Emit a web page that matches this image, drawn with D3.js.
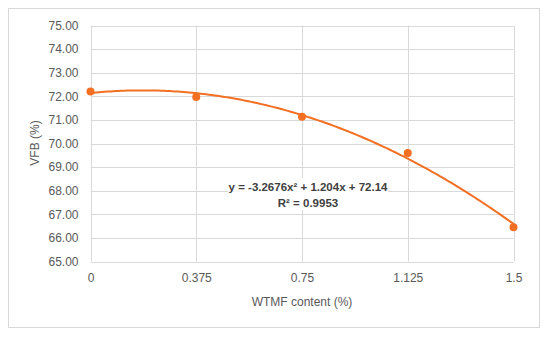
<!DOCTYPE html>
<html><head><meta charset="utf-8">
<script src="https://cdn.jsdelivr.net/npm/d3@7"></script>
<style>body{margin:0;background:#fff}svg{display:block}</style>
</head><body>
<script>
const xValues = [0, 0.375, 0.75, 1.125, 1.5];
const vfbValues = [72.2, 71.97, 71.13, 69.6, 66.45];
const xTickLabels = ["0", "0.375", "0.75", "1.125", "1.5"];
const yTicks = [65, 66, 67, 68, 69, 70, 71, 72, 73, 74, 75];
const trendCoeffs = [-3.2676, 1.204, 72.14]; // a, b, c
const equationLines = ["y = -3.2676x² + 1.204x + 72.14", "R² = 0.9953"];

const W = 550, H = 338;
const svg = d3.select("body").append("svg").attr("width", W).attr("height", H);
const font = "'Liberation Sans', Arial, sans-serif";

svg.append("rect").attr("x", 8.5).attr("y", 8.5).attr("width", 531).attr("height", 319)
  .attr("fill", "#fff").attr("stroke", "#d9d9d9").attr("stroke-width", 1);

const x = d3.scaleLinear().domain([0, 1.5]).range([90.5, 513.5]);
const y = d3.scaleLinear().domain([65, 75]).range([261.5, 25.5]);

const g = svg.append("g");
g.selectAll("line.h").data(yTicks).join("line")
  .attr("x1", x(0)).attr("x2", x(1.5)).attr("y1", d => Math.round(y(d)) + 0.5).attr("y2", d => Math.round(y(d)) + 0.5)
  .attr("stroke", "#d9d9d9").attr("stroke-width", 1);
g.selectAll("line.v").data(xValues).join("line")
  .attr("y1", y(65)).attr("y2", y(75)).attr("x1", d => Math.round(x(d)) + 0.5).attr("x2", d => Math.round(x(d)) + 0.5)
  .attr("stroke", "#d9d9d9").attr("stroke-width", 1);

const yAxis = d3.axisLeft(y).tickValues(yTicks).tickFormat(d3.format(".2f")).tickSize(0).tickPadding(12);
const ya = svg.append("g").attr("transform", `translate(${x(0)},0)`).call(yAxis);
ya.select(".domain").remove();
ya.selectAll("text").attr("fill", "#595959").style("font-family", font).style("font-size", "12px");

const xAxis = d3.axisBottom(x).tickValues(xValues).tickFormat((d, i) => xTickLabels[i]).tickSize(0).tickPadding(12);
const xa = svg.append("g").attr("transform", `translate(0,${y(65)})`).call(xAxis);
xa.select(".domain").remove();
xa.selectAll("text").attr("fill", "#595959").style("font-family", font).style("font-size", "12px");

svg.append("text").attr("x", 302).attr("y", 306).attr("text-anchor", "middle")
  .attr("fill", "#595959").style("font-family", font).style("font-size", "12px").text("WTMF content (%)");
svg.append("text").attr("transform", "translate(39,143) rotate(-90)").attr("text-anchor", "middle")
  .attr("fill", "#595959").style("font-family", font).style("font-size", "12px").text("VFB (%)");

const [a, b, c] = trendCoeffs;
const samples = d3.range(0, 1.5001, 0.01);
const line = d3.line().x(d => x(d)).y(d => y(a * d * d + b * d + c)).curve(d3.curveLinear);
svg.append("path").datum(samples).attr("d", line).attr("fill", "none")
  .attr("stroke", "#F36F21").attr("stroke-width", 2);

svg.selectAll("circle.pt").data(xValues).join("circle")
  .attr("cx", d => x(d)).attr("cy", (d, i) => y(vfbValues[i])).attr("r", 4)
  .attr("fill", "#F36F21");

const eq = svg.append("g");
eq.append("rect").attr("x", 228).attr("y", 178).attr("width", 160).attr("height", 32).attr("fill", "#fff");
eq.selectAll("text").data(equationLines).join("text")
  .attr("x", 308).attr("y", (d, i) => 191 + i * 16).attr("text-anchor", "middle")
  .attr("fill", "#404040").style("font-family", font).style("font-size", "11.5px").style("font-weight", "bold")
  .text(d => d);
</script>
</body></html>
